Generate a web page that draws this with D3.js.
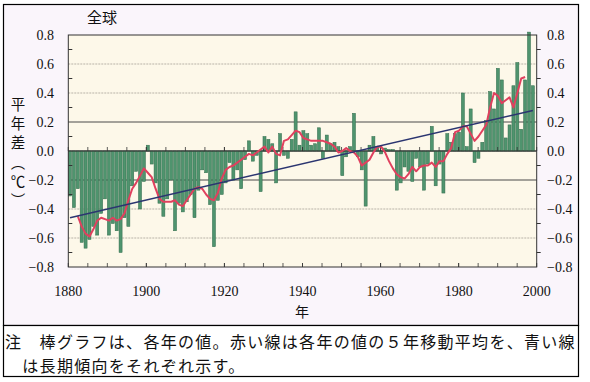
<!DOCTYPE html>
<html><head><meta charset="utf-8">
<script src="https://cdn.jsdelivr.net/npm/d3@7"></script>
<style>body{margin:0;background:#fff}svg{display:block}</style>
</head><body><svg id="c" width="590" height="382"></svg>
<script>
// ---- data ----
const barYears = d3.range(1880, 2000);
const anomalies = [
 -0.31,-0.39,-0.26,-0.63,-0.67,-0.61,-0.52,-0.58,-0.43,-0.33,
 -0.58,-0.50,-0.55,-0.70,-0.46,-0.52,-0.24,-0.14,-0.40,-0.21,
  0.04,-0.09,-0.22,-0.36,-0.45,-0.33,-0.20,-0.55,-0.36,-0.42,
 -0.35,-0.30,-0.46,-0.27,-0.13,-0.15,-0.37,-0.66,-0.34,-0.30,
 -0.22,-0.08,-0.20,-0.13,-0.26,-0.06, 0.07,-0.07,-0.03,-0.28,
  0.10, 0.08, 0.05,-0.22, 0.12,-0.03,-0.05, 0.08, 0.27, 0.04,
  0.14, 0.12, 0.04, 0.05, 0.16,-0.05, 0.11, 0.05, 0.06, 0.03,
 -0.17,-0.04, 0.03, 0.26,-0.04,-0.13,-0.38, 0.04, 0.10, 0.03,
 -0.02, 0.02, 0.01, 0.01,-0.27,-0.22,-0.11,-0.14,-0.21,-0.05,
 -0.11,-0.27,-0.09, 0.17,-0.24,-0.09,-0.29, 0.12, 0.06, 0.12,
  0.13, 0.40, 0.03, 0.29,-0.08,-0.05, 0.06, 0.21, 0.41, 0.29,
  0.57, 0.49, 0.09, 0.18, 0.45, 0.61, 0.15, 0.49, 0.82, 0.45
];
const maYears = d3.range(1882, 1998);
const movingAvg = [
 -0.45,-0.52,-0.57,-0.59,-0.54,-0.48,-0.46,-0.47,-0.48,-0.46,-0.48,-0.47,-0.43,-0.34,-0.26,-0.22,-0.17,-0.12,
 -0.15,-0.18,-0.26,-0.33,-0.35,-0.35,-0.35,-0.34,-0.37,-0.38,
 -0.34,-0.30,-0.26,-0.25,-0.26,-0.30,-0.33,-0.34,-0.29,-0.19,
 -0.13,-0.11,-0.10,-0.08,-0.06,-0.04,-0.02,-0.03,-0.01, 0.01,
  0.03,-0.01, 0.03,-0.02,-0.03, 0.07, 0.08, 0.11, 0.14, 0.13,
  0.09, 0.08, 0.07, 0.07, 0.07, 0.07, 0.06, 0.05, 0.03,-0.01,
  0.00, 0.02, 0.00,-0.01,-0.04,-0.10,-0.08,-0.06,-0.01, 0.03,
  0.03,-0.01,-0.07,-0.12,-0.16,-0.18,-0.19,-0.16,-0.11,-0.14,
 -0.11,-0.10,-0.10,-0.08,-0.11,-0.07,-0.07,-0.02, 0.02, 0.13,
  0.14, 0.17, 0.17, 0.12, 0.07, 0.10, 0.14, 0.18, 0.30, 0.40,
  0.38, 0.33, 0.35, 0.37, 0.30, 0.40, 0.50, 0.51
];
const trendYears = [1880, 1999];
const trendValues = [-0.46, 0.28];
const yTicks = [0.8,0.6,0.4,0.2,0.0,-0.2,-0.4,-0.6,-0.8];
const yMinor = [0.7,0.5,0.3,0.1,-0.1,-0.3,-0.5,-0.7];
const xTicks = [1880,1900,1920,1940,1960,1980,2000];
const xMinor = d3.range(1885, 2000, 5);
const title = "全球";
const yLabelChars = ["平","年","差","︵","℃","︶"];
const xLabel = "年";
const noteLines = ["注　棒グラフは、各年の値。赤い線は各年の値の５年移動平均を、青い線","　は長期傾向をそれぞれ示す。"];

// ---- drawing ----
const svg = d3.select("#c");
const L = 68.3, R = 536.7, T = 35, B = 267;
const x = d3.scaleLinear().domain([1880, 2000]).range([L, R]);
const xb = d3.scaleBand().domain(barYears).range([L, 534.6]).paddingInner(0.22).paddingOuter(0.05);
const y = d3.scaleLinear().domain([-0.8, 0.8]).range([B, T]);
const cx = yr => xb(yr) + xb.bandwidth() / 2;

svg.append("rect").attr("x",0).attr("y",0).attr("width",590).attr("height",382).attr("fill","#fff");
svg.append("rect").attr("x",3.5).attr("y",4.5).attr("width",575).attr("height",321).attr("fill","#faf5fb").attr("stroke","#000").attr("stroke-width",1.2);
svg.append("rect").attr("x",3.5).attr("y",325.5).attr("width",575).attr("height",51).attr("fill","#fff").attr("stroke","#000").attr("stroke-width",1.2);

svg.append("rect").attr("x",L).attr("y",T).attr("width",R-L).attr("height",B-T).attr("fill","#fdf8e9");

// gridlines
const g = svg.append("g");
yTicks.filter(v => v > -0.8 && v < 0.8).forEach(v => {
  const strong = Math.abs(v) < 0.3;
  g.append("line").attr("x1",L).attr("x2",R).attr("y1",y(v)).attr("y2",y(v))
    .attr("stroke", strong ? "#4a4a4a" : "#b0aa9f")
    .attr("stroke-width", strong ? 1 : 0.9)
    .attr("stroke-dasharray", strong ? null : "2,1");
});

// bars
svg.append("g").selectAll("rect").data(barYears).join("rect")
  .attr("x", d => xb(d))
  .attr("width", xb.bandwidth())
  .attr("y", (d,i) => y(Math.max(0, anomalies[i])))
  .attr("height", (d,i) => Math.abs(y(anomalies[i]) - y(0)))
  .attr("fill", "#4f946e")
  .attr("stroke", "#2f6a4a")
  .attr("stroke-width", 0.5);

// zero line + ticks on it
svg.append("line").attr("x1",L).attr("x2",R).attr("y1",y(0)).attr("y2",y(0)).attr("stroke","#333").attr("stroke-width",1);
xMinor.concat(xTicks).forEach(t => {
  svg.append("line").attr("x1",x(t)).attr("x2",x(t)).attr("y1",y(0)).attr("y2",y(0)-4).attr("stroke","#333").attr("stroke-width",0.8);
  svg.append("line").attr("x1",x(t)).attr("x2",x(t)).attr("y1",B).attr("y2",B-4).attr("stroke","#333").attr("stroke-width",0.8);
});

// trend and moving average
const line = d3.line().x(d => d[0]).y(d => d[1]);
svg.append("path")
  .attr("d", line(maYears.map((yr,i) => [cx(yr), y(movingAvg[i])])))
  .attr("fill","none").attr("stroke","#e0405e").attr("stroke-width",2).attr("stroke-linejoin","round");
svg.append("path")
  .attr("d", line(trendYears.map((yr,i) => [cx(yr), y(trendValues[i])])))
  .attr("fill","none").attr("stroke","#2b3570").attr("stroke-width",1.5);

// plot frame
svg.append("rect").attr("x",L).attr("y",T).attr("width",R-L).attr("height",B-T).attr("fill","none").attr("stroke","#333").attr("stroke-width",1);

// y minor ticks
yMinor.forEach(v => {
  svg.append("line").attr("x1",L).attr("x2",L+4).attr("y1",y(v)).attr("y2",y(v)).attr("stroke","#333");
  svg.append("line").attr("x1",R).attr("x2",R+4).attr("y1",y(v)).attr("y2",y(v)).attr("stroke","#333");
});

// axes labels
const fmt = d3.format(".1f");
const serif = "'Liberation Serif','Times New Roman','DejaVu Serif',serif";
const cjk = "'Noto Sans CJK JP','Noto Sans',sans-serif";
svg.append("g").selectAll("text").data(yTicks).join("text")
  .attr("x", 54).attr("y", d => y(d) + 5)
  .attr("text-anchor","end").attr("font-family",serif).attr("font-size",14).attr("fill","#111")
  .text(d => fmt(d));
svg.append("g").selectAll("text").data(yTicks).join("text")
  .attr("x", 547).attr("y", d => y(d) + 5)
  .attr("text-anchor","start").attr("font-family",serif).attr("font-size",14).attr("fill","#111")
  .text(d => fmt(d));
svg.append("g").selectAll("text").data(xTicks).join("text")
  .attr("x", d => x(d)).attr("y", 296)
  .attr("text-anchor","middle").attr("font-family",serif).attr("font-size",14).attr("fill","#111")
  .text(d => d);

svg.append("text").attr("x",87).attr("y",23).attr("font-family",cjk).attr("font-size",15).attr("fill","#111").text(title);
const ylY = [105,124,143,163,182,201];
yLabelChars.forEach((c,i) => {
  svg.append("text").attr("x",18).attr("y",ylY[i]+5).attr("text-anchor","middle")
    .attr("font-family",cjk).attr("font-size",14.5).attr("fill","#111").text(c);
});
svg.append("text").attr("x",302).attr("y",317).attr("text-anchor","middle").attr("font-family",cjk).attr("font-size",14).attr("fill","#111").text(xLabel);
noteLines.forEach((s,i) => {
  svg.append("text").attr("x",5).attr("y",348 + i*23.5).attr("font-family",cjk).attr("font-size",16)
    .attr("letter-spacing",1.3).attr("fill","#111").text(s);
});
</script></body></html>
